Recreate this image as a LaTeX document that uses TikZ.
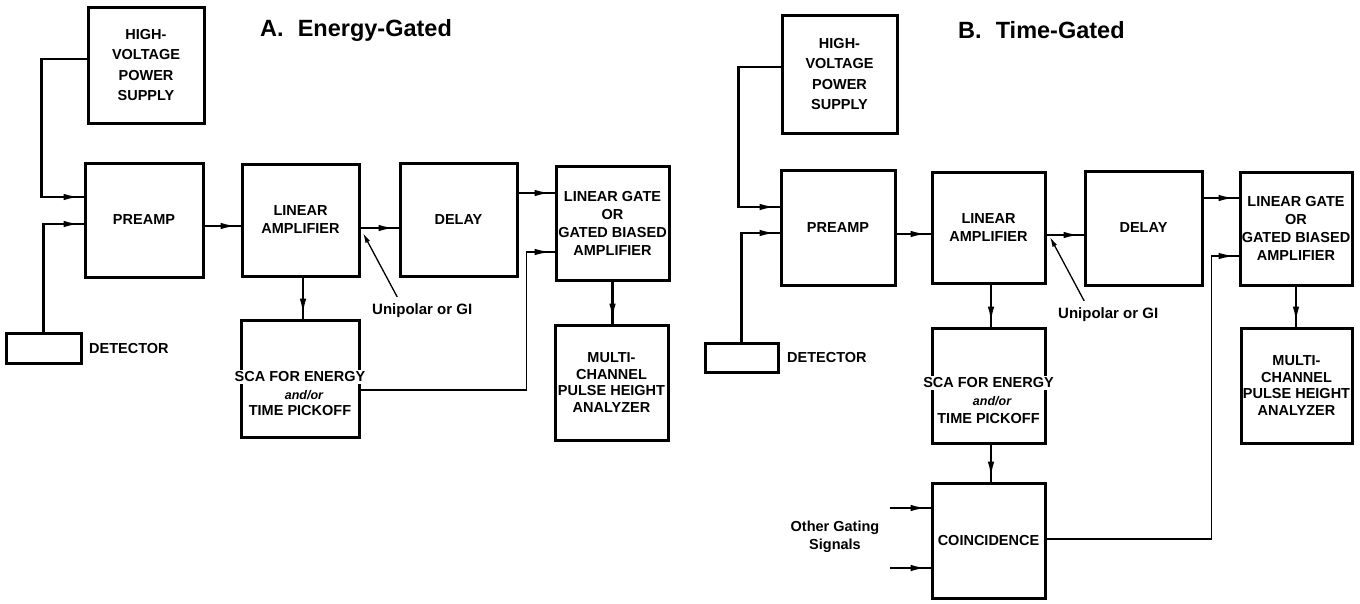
\documentclass[tikz,border=0pt]{standalone}
\usepackage{fontspec}
\setmainfont{Liberation Sans}
\usetikzlibrary{arrows.meta, positioning, decorations.markings}

\tikzset{
  blk/.style={draw, line width=3pt, align=center, inner sep=0pt,
    font=\fontsize{14.5}{18}\selectfont\bfseries},
  conn/.style={line width=2.2pt, postaction={decorate},
    decoration={markings, mark=at position -4pt with {\arrow{Latex[length=16pt,width=6.5pt]}}}},
  ptr/.style={line width=1.3pt, -{Latex[length=10pt,width=5pt]}},
  lbl/.style={font=\fontsize{14.5}{18}\selectfont\bfseries, inner sep=0pt, align=center},
  ttl/.style={font=\fontsize{23.5}{28}\selectfont\bfseries, inner sep=0pt},
  sml/.style={font=\fontsize{12.5}{13}\selectfont\bfseries\itshape, inner sep=0pt},
}

\begin{document}
\begin{tikzpicture}[x=1pt, y=-1pt]
  \fill[white] (0,0) rectangle (1360,603);

  % ---------------- A. Energy-Gated ----------------
  \node[ttl, anchor=base west] (ttlA) at (260,36) {A.\hspace{0.6em}Energy-Gated};

  \node[blk, minimum width=116pt, minimum height=116pt, font=\fontsize{14.5}{20.5}\selectfont\bfseries] (hvA) at (146,65) {HIGH-\\VOLTAGE\\POWER\\SUPPLY};
  \node[blk, minimum width=118pt, minimum height=114pt] (preA) at (144,220) {PREAMP};
  \node[blk, minimum width=117pt, minimum height=112pt] (linA) at (300.5,220) {LINEAR\\AMPLIFIER};
  \node[blk, minimum width=117pt, minimum height=113pt] (dlyA) at (458.5,220) {DELAY};
  \node[blk, minimum width=113pt, minimum height=114pt] (lgA) at (612.5,223) {LINEAR GATE\\OR\\GATED BIASED\\AMPLIFIER};
  \node[blk, minimum width=113pt, minimum height=115pt, font=\fontsize{14.5}{16.7}\selectfont\bfseries] (mcaA) at (611.5,382.5) {MULTI-\\CHANNEL\\PULSE HEIGHT\\ANALYZER};

  % SCA box, first line runs over the border
  \node[blk, minimum width=118pt, minimum height=117pt] (scaA) at (300,378.5) {};
  \node[lbl, fill=white, inner sep=2pt] (scaAt) at (300,377) {SCA FOR ENERGY};
  \node[sml] (scaAm) at (304,395) {and/or};
  \node[lbl] (scaAb) at (300,411) {TIME PICKOFF};

  \node[blk, minimum width=75pt, minimum height=30pt] (detA) at (43.5,348) {};
  \node[lbl, anchor=base west] (detAl) at (89,353) {DETECTOR};
  \node[lbl, font=\fontsize{15}{18}\selectfont\bfseries, anchor=base west] (uniA) at (372,314) {Unipolar or GI};
  \coordinate (tapA) at (363,233);

  \draw[conn] ([yshift=6pt]hvA.west) -- ++(-45,0) |- ([yshift=23pt]preA.west);
  \draw[conn] (detA.north) |- ([yshift=-4pt]preA.west);
  \draw[conn] ([yshift=-6pt]preA.east) -- ([yshift=-6pt]linA.west);
  \draw[conn] ([yshift=-8pt]linA.east) -- ([yshift=-8pt]dlyA.west);
  \draw[conn] ([yshift=27pt]dlyA.east) -- ([yshift=30pt]lgA.west);
  \draw[conn] ([xshift=2.5pt]linA.south) -- ([xshift=3pt]scaA.north);
  \draw[conn] (lgA.south) -- (lgA.south |- mcaA.north);
  \draw[conn, line width=1.6pt] ([yshift=-11.5pt]scaA.east) -| ([xshift=-28pt,yshift=-29pt]lgA.west) -- ([yshift=-29pt]lgA.west);
  \draw[ptr] ([xshift=-25pt,yshift=6pt]uniA.north) -- (tapA);

  % ---------------- B. Time-Gated ----------------
  \node[ttl, anchor=base west] (ttlB) at (958,38) {B.\hspace{0.6em}Time-Gated};

  \node[blk, minimum width=115pt, minimum height=118pt, font=\fontsize{14.5}{20.5}\selectfont\bfseries] (hvB) at (839.5,74) {HIGH-\\VOLTAGE\\POWER\\SUPPLY};
  \node[blk, minimum width=114pt, minimum height=115pt] (preB) at (838,228) {PREAMP};
  \node[blk, minimum width=113pt, minimum height=111pt] (linB) at (988.5,228) {LINEAR\\AMPLIFIER};
  \node[blk, minimum width=117pt, minimum height=114pt] (dlyB) at (1143.5,228) {DELAY};
  \node[blk, minimum width=112pt, minimum height=113pt] (lgB) at (1296,228.5) {LINEAR GATE\\OR\\GATED BIASED\\AMPLIFIER};
  \node[blk, minimum width=111pt, minimum height=115pt, font=\fontsize{14.5}{16.7}\selectfont\bfseries] (mcaB) at (1296.5,385.5) {MULTI-\\CHANNEL\\PULSE HEIGHT\\ANALYZER};

  \node[blk, minimum width=113pt, minimum height=115pt] (scaB) at (988.5,385.5) {};
  \node[lbl, fill=white, inner sep=2pt] (scaBt) at (988.5,383) {SCA FOR ENERGY};
  \node[sml] (scaBm) at (992,401) {and/or};
  \node[lbl] (scaBb) at (988.5,418) {TIME PICKOFF};

  \node[blk, minimum width=113pt, minimum height=115pt] (coB) at (988.5,540.5) {COINCIDENCE};

  \node[blk, minimum width=73pt, minimum height=29pt] (detB) at (741.5,357.5) {};
  \node[lbl, anchor=base west] (detBl) at (787,362) {DETECTOR};
  \node[lbl, font=\fontsize{15}{18}\selectfont\bfseries, anchor=base west] (uniB) at (1058,318) {Unipolar or GI};
  \node[lbl] (othB) at (835,537) {Other Gating\\Signals};
  \coordinate (tapB) at (1050,237);
  \coordinate (inB1) at (890,508);
  \coordinate (inB2) at (890,568);

  \draw[conn] ([yshift=7pt]hvB.west) -- ++(-42,0) |- ([yshift=21pt]preB.west);
  \draw[conn] (detB.north) |- ([yshift=-5pt]preB.west);
  \draw[conn] ([yshift=-6pt]preB.east) -- ([yshift=-6pt]linB.west);
  \draw[conn] ([yshift=-7pt]linB.east) -- ([yshift=-7pt]dlyB.west);
  \draw[conn] ([yshift=30pt]dlyB.east) -- ([yshift=30.5pt]lgB.west);
  \draw[conn] ([xshift=2.5pt]linB.south) -- ([xshift=2.5pt]scaB.north);
  \draw[conn] ([xshift=2.5pt]scaB.south) -- ([xshift=2.5pt]coB.north);
  \draw[conn] (lgB.south) -- (lgB.south |- mcaB.north);
  \draw[conn, line width=1.6pt] ([yshift=1.5pt]coB.east) -| ([xshift=-27pt,yshift=-27.5pt]lgB.west) -- ([yshift=-27.5pt]lgB.west);
  \draw[conn] (inB1) -- (inB1 -| coB.west);
  \draw[conn] (inB2) -- (inB2 -| coB.west);
  \draw[ptr] ([xshift=-24pt,yshift=6pt]uniB.north) -- (tapB);
\end{tikzpicture}
\end{document}
